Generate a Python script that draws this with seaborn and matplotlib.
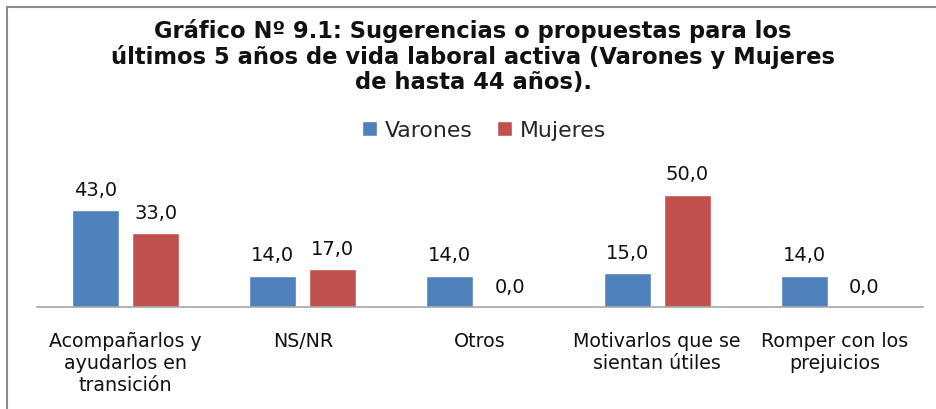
import pandas as pd
import seaborn as sns
import matplotlib.pyplot as plt
from matplotlib.patches import Rectangle

# datos del grafico
categorias = ['Acompañarlos y\nayudarlos en\ntransición', 'NS/NR', 'Otros',
              'Motivarlos que se\nsientan útiles', 'Romper con los\nprejuicios']
varones = [43.0, 14.0, 14.0, 15.0, 14.0]
mujeres = [33.0, 17.0, 0.0, 50.0, 0.0]
series = ['Varones', 'Mujeres']
colores = ['#4F81BD', '#C0504D']

titulo = ('Gráfico Nº 9.1: Sugerencias o propuestas para los\n'
          'últimos 5 años de vida laboral activa (Varones y Mujeres\n'
          'de hasta 44 años).')

df = pd.DataFrame({
    'categoria': categorias * 2,
    'valor': varones + mujeres,
    'sexo': [series[0]] * len(categorias) + [series[1]] * len(categorias),
})

sns.set_theme(style='white')
plt.rcParams['font.family'] = ['DejaVu Sans']

fig = plt.figure(figsize=(9.36, 4.10), dpi=100)
ax = fig.add_axes([37 / 936, 1 - 308 / 410, (923 - 37) / 936, 135 / 410])

sns.barplot(data=df, x='categoria', y='valor', hue='sexo', palette=colores,
            width=0.68, gap=0.22, saturation=1, ax=ax)

for cont in ax.containers:
    etiquetas = [('%.1f' % v).replace('.', ',') for v in cont.datavalues]
    ax.bar_label(cont, labels=etiquetas, padding=8, fontsize=14, color='#111111')

ax.set_ylim(0, 60)
ax.set_xlim(-0.5, 4.5)
ax.set_yticks([])
ax.set_xlabel('')
ax.set_ylabel('')
ax.tick_params(axis='x', length=0, pad=17, labelsize=13.7, labelcolor='#111111')
for s in ['left', 'top', 'right']:
    ax.spines[s].set_visible(False)
ax.spines['bottom'].set_color('#a6a6a6')
ax.spines['bottom'].set_linewidth(1.2)

h, l = ax.get_legend_handles_labels()
ax.get_legend().remove()
fig.legend(h, l, loc='center', bbox_to_anchor=(484 / 936, 1 - 131 / 410), ncol=2,
           frameon=False, fontsize=15.8, handlelength=0.7, handleheight=0.7,
           handletextpad=0.35, columnspacing=1.1)

fig.text(473 / 936, 1 - 19 / 410, titulo, ha='center', va='top', fontsize=16.3,
         fontweight='bold', linespacing=1.1, color='#111111')

# marco gris del grafico
fig.add_artist(Rectangle((7 / 936, -0.1), 1.2, 1 - 8 / 410 + 0.1, transform=fig.transFigure,
                         fill=False, edgecolor='#8c8c8c', linewidth=1.5))

fig.savefig('out.png', dpi=100)
